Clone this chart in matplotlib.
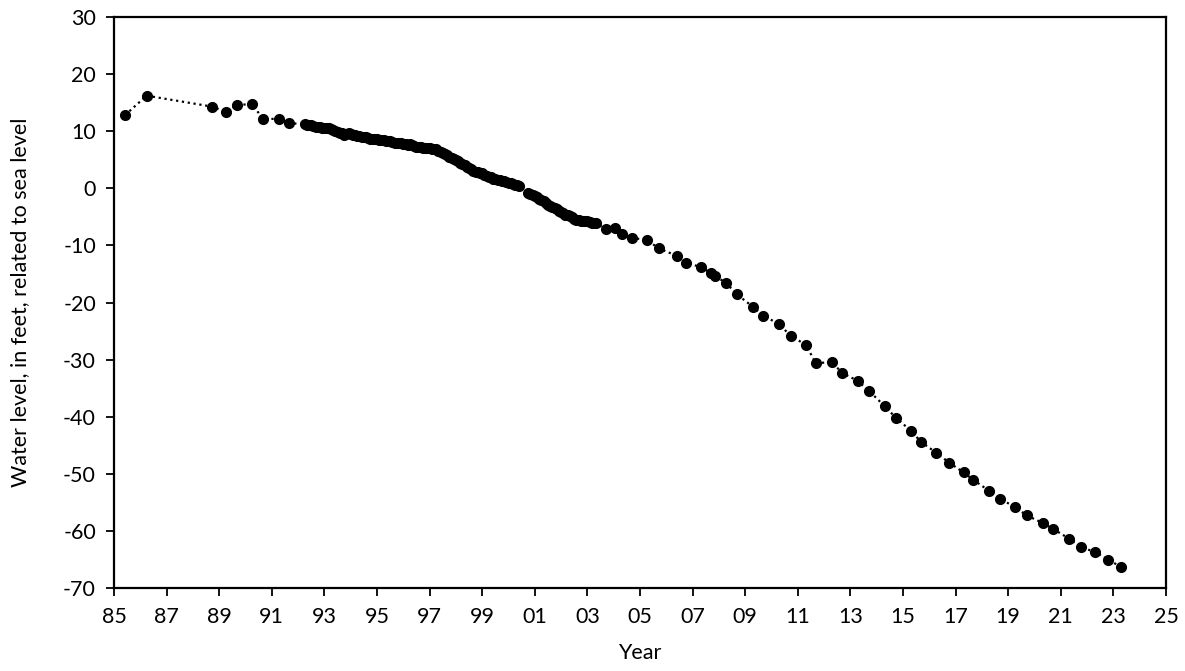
import numpy as np
import pandas as pd
import matplotlib
matplotlib.use("Agg")
import matplotlib.pyplot as plt

plt.rcParams['font.family'] = ['Lato', 'DejaVu Sans']
plt.rcParams['axes.unicode_minus'] = False

# early sparse measurements (decimal year, feet)
early_years = [1985.42, 1986.24, 1988.71, 1989.26, 1989.69, 1990.26, 1990.65, 1991.26, 1991.67]
early_levels = [12.8, 16.2, 14.3, 13.4, 14.6, 14.7, 12.2, 12.1, 11.4]

# monthly measurements Apr 1992 - May 2003 (Jul-Sep 2000 missing)
dense_levels = [
    11.2, 11.1, 11.0, 11.1, 10.9, 10.8, 10.8, 10.7, 10.6,
    10.6, 10.5, 10.5, 10.4, 10.2, 10.0, 9.8, 9.7, 9.6, 9.4, 9.5, 9.6,
    9.5, 9.4, 9.3, 9.2, 9.1, 9.0, 9.0, 8.9, 8.8, 8.7, 8.7, 8.6,
    8.6, 8.5, 8.4, 8.4, 8.3, 8.2, 8.2, 8.1, 8.0, 7.9, 7.9, 7.9,
    7.8, 7.7, 7.6, 7.8, 7.6, 7.4, 7.3, 7.2, 7.2, 7.1, 7.0, 7.0,
    7.0, 6.9, 6.9, 6.8, 6.6, 6.4, 6.2, 6.0, 5.8, 5.5, 5.3, 5.1,
    4.9, 4.7, 4.5, 4.3, 4.1, 3.8, 3.6, 3.3, 3.1, 2.9, 2.8, 2.7,
    2.6, 2.4, 2.2, 2.0, 1.9, 1.7, 1.6, 1.5, 1.4, 1.3, 1.2, 1.1,
    1.0, 0.9, 0.8, 0.6, 0.5, 0.4, -0.8, -1.0, -1.2,
    -1.4, -1.6, -1.8, -2.0, -2.3, -2.6, -2.9, -3.1, -3.3, -3.5, -3.7, -4.0,
    -4.2, -4.4, -4.6, -4.7, -4.9, -5.1, -5.3, -5.5, -5.6, -5.7, -5.7, -5.8,
    -5.8, -5.9, -6.0, -6.0, -6.1,
]
missing_months = ['2000-07-01', '2000-08-01', '2000-09-01']

# later sparse measurements
late_years = [2003.71, 2004.04, 2004.32, 2004.70, 2005.25, 2005.71, 2006.39, 2006.74,
              2007.32, 2007.69, 2007.85, 2008.28, 2008.67, 2009.31, 2009.69, 2010.27,
              2010.73, 2011.31, 2011.68, 2012.29, 2012.69, 2013.28, 2013.72, 2014.30,
              2014.74, 2015.30, 2015.67, 2016.27, 2016.76, 2017.30, 2017.67, 2018.27,
              2018.70, 2019.26, 2019.70, 2020.33, 2020.71, 2021.32, 2021.76, 2022.30,
              2022.80, 2023.29]
late_levels = [-7.2, -7.0, -8.0, -8.7, -9.0, -10.5, -11.8, -13.0,
               -13.8, -14.8, -15.3, -16.6, -18.5, -20.8, -22.3, -23.7,
               -25.8, -27.4, -30.6, -30.4, -32.3, -33.7, -35.5, -38.1,
               -40.2, -42.4, -44.3, -46.3, -48.0, -49.7, -51.0, -52.9,
               -54.3, -55.8, -57.2, -58.6, -59.6, -61.3, -62.8, -63.6,
               -65.0, -66.2]

months = pd.date_range('1992-04-01', '2003-05-01', freq='MS')
months = months[~months.isin(pd.to_datetime(missing_months))]
dense_years = list(months.year + (months.month - 1) / 12)

years = early_years + dense_years + late_years
levels = early_levels + dense_levels + late_levels

fig = plt.figure(figsize=(11.85, 6.71), dpi=100)
ax = fig.add_axes([0.0962, 0.123, 0.8878, 0.852])

ax.plot(years, levels, color='black', linestyle=':', linewidth=1.6,
        marker='o', markersize=7, markerfacecolor='black', markeredgecolor='black')

ax.set_xlim(1985, 2025)
ax.set_ylim(-70, 30)
xticks = np.arange(1985, 2026, 2)
ax.set_xticks(xticks)
ax.set_xticklabels(['%02d' % (t % 100) for t in xticks])
ax.set_yticks(np.arange(-70, 31, 10))

for s in ax.spines.values():
    s.set_linewidth(1.6)
    s.set_color('black')
ax.tick_params(direction='out', length=6, width=1.3, labelsize=15.5, pad=7, colors='black')

ax.set_xlabel('Year', fontsize=15.5, labelpad=12)
ax.set_ylabel('Water level, in feet, related to sea level', fontsize=15.5, labelpad=24)

fig.savefig('out.png', dpi=100)
